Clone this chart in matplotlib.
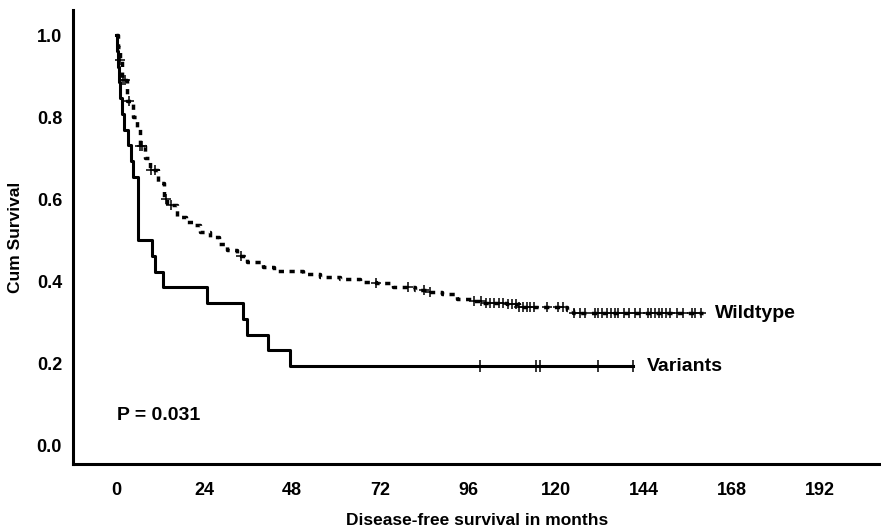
import numpy as np
import matplotlib
matplotlib.use('Agg')
import matplotlib.pyplot as plt

# --- Kaplan-Meier steps (months, cumulative survival) ---
wild_t = [0, 0.5, 1.0, 1.6, 3.0, 4.5, 5.7, 6.5, 8.0, 9.3, 11.5, 13.0, 14.0, 16.6,
          19.0, 21.0, 23.0, 25.6, 28.0, 30.3, 33.0, 35.7, 40.0, 43.0, 51.0, 55.6,
          61.0, 66.5, 71.0, 75.5, 81.5, 84.8, 89.0, 93.0, 97.4, 100.0, 106.6,
          110.0, 123.0, 124.6, 160.0]
wild_s = [1.0, 0.97, 0.94, 0.89, 0.84, 0.80, 0.77, 0.73, 0.70, 0.67, 0.64, 0.60,
          0.585, 0.556, 0.545, 0.537, 0.52, 0.507, 0.49, 0.476, 0.46, 0.446, 0.435,
          0.425, 0.418, 0.41, 0.405, 0.398, 0.395, 0.385, 0.378, 0.373, 0.368,
          0.356, 0.351, 0.346, 0.344, 0.337, 0.329, 0.322, 0.322]
wild_cens = [1, 2, 2.5, 3.5, 6.5, 7, 9.5, 10.5, 13.5, 15, 34, 71, 79.5, 84, 85.5,
             97.5, 99.5, 101, 102, 103, 104.5, 105.5, 107, 108, 109, 110, 111, 112,
             113, 114, 117.5, 120.5, 122, 125, 126.5, 128, 130.5, 131.5, 132.5, 134,
             135, 136, 137, 138.5, 140, 141.5, 143, 145, 146, 147, 148, 149, 150, 151,
             153, 154.5, 157, 158, 159.5]

var_t = [0, 0.3, 0.6, 0.9, 1.2, 1.6, 2.2, 3.3, 4.0, 4.6, 6.0, 9.8, 10.6, 12.8,
         24.8, 34.7, 35.7, 41.5, 47.5, 141.0]
var_s = [1.0, 0.962, 0.923, 0.885, 0.846, 0.808, 0.769, 0.731, 0.692, 0.654, 0.5,
         0.462, 0.423, 0.385, 0.346, 0.308, 0.269, 0.231, 0.192, 0.192]
var_cens = [99.2, 114.5, 115.6, 131.4, 141.0]

x_ticks = [0, 24, 48, 72, 96, 120, 144, 168, 192]
y_ticks = [0.0, 0.2, 0.4, 0.6, 0.8, 1.0]


def surv_at(t, s, times):
    idx = np.searchsorted(t, times, side='right') - 1
    return np.asarray(s)[idx]


plt.rcParams['font.family'] = ['Liberation Sans Narrow', 'Liberation Sans', 'DejaVu Sans']
plt.rcParams['font.weight'] = 'bold'

fig = plt.figure(figsize=(8.81, 5.30), dpi=100)
ax = fig.add_axes([0.083, 0.1245, 0.917, 0.8566])

# wildtype: dotted step curve with censor crosses
ax.step(wild_t, wild_s, where='post', color='black', lw=2.5,
        linestyle=(0, (1.5, 1.6)))
ax.plot(wild_cens, surv_at(wild_t, wild_s, wild_cens), linestyle='none',
        marker='+', ms=7, mew=1.1, color='black')

# variants: solid step curve with censor ticks
ax.step(var_t, var_s, where='post', color='black', lw=2.2)
ax.plot(var_cens, surv_at(var_t, var_s, var_cens), linestyle='none',
        marker='|', ms=8, mew=1.1, color='black')

ax.annotate('Wildtype', (wild_t[-1], wild_s[-1]), xytext=(9, 0),
            textcoords='offset points', va='center', ha='left',
            fontsize=14, fontweight='bold', family=['Liberation Sans', 'DejaVu Sans'])
ax.annotate('Variants', (var_t[-1], var_s[-1]), xytext=(10, 0),
            textcoords='offset points', va='center', ha='left',
            fontsize=14, fontweight='bold', family=['Liberation Sans', 'DejaVu Sans'])
ax.text(0.3, 0.073, 'P = 0.031', va='center', ha='left', fontsize=14,
        fontweight='bold', family=['Liberation Sans', 'DejaVu Sans'])

ax.set_xlim(-11.7, 208.6)
ax.set_ylim(-0.046, 1.061)
ax.set_xticks(x_ticks)
ax.set_yticks(y_ticks)
ax.set_yticklabels([f'{v:.1f}' for v in y_ticks])
ax.tick_params(length=0, labelsize=13)
ax.tick_params(axis='x', pad=13)
ax.tick_params(axis='y', pad=8)

for side in ['top', 'right']:
    ax.spines[side].set_visible(False)
for side in ['left', 'bottom']:
    ax.spines[side].set_linewidth(2.2)

ax.set_xlabel('Disease-free survival in months', fontsize=12.5, fontweight='bold',
              labelpad=10)
ax.set_ylabel('Cum Survival', fontsize=12.5, fontweight='bold', labelpad=10)

fig.savefig('out.png', dpi=100)
